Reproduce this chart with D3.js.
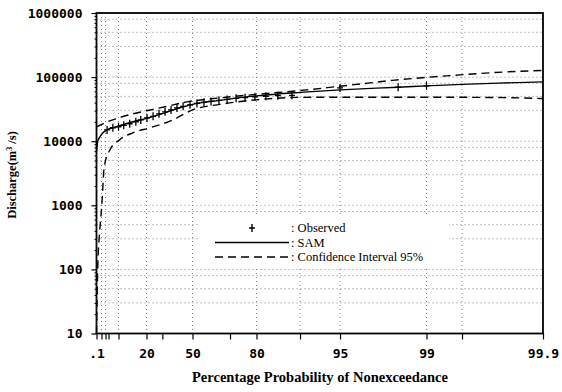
<!DOCTYPE html>
<html>
<head>
<meta charset="utf-8">
<script src="https://cdn.jsdelivr.net/npm/d3@7"></script>
<style>
  body { margin: 0; background: #fff; }
  svg { display: block; }
</style>
</head>
<body>
<div id="chart"></div>
<script>
// observed floods: probability of nonexceedance (%) and discharge (m3/s)
const obsP = [3.3, 6.9, 10, 11.6, 13.6, 15.8, 17.7, 20.3, 24, 27.8, 31.8, 35.8, 39.8, 43.9, 48.4, 52.7, 56.8, 60.7, 64.8, 68.7, 72.6, 76.1, 79.5, 82.7, 85.7, 88.6, 95, 98.3, 99];
const obsQ = [15000, 16200, 16800, 17700, 18700, 20100, 21500, 23100, 24400, 26700, 28700, 30800, 33100, 35000, 36900, 38900, 40400, 41800, 43400, 44900, 46600, 47800, 49200, 50100, 51300, 51900, 67900, 69600, 73000];

// fitted SAM curve
const samP = [0.1, 0.18, 0.51, 1.3, 3.3, 6.9, 10.3, 14.7, 20, 28.5, 38.5, 50, 65.3, 80, 90, 95, 98.3, 99, 99.5, 99.76, 99.9];
const samQ = [6840, 9790, 11700, 13500, 15050, 16200, 17400, 20100, 22700, 26200, 31400, 37600, 43400, 51000, 57800, 63200, 69600, 73000, 77000, 80600, 84200];

// 95% confidence interval, upper and lower
const upP = [0.1, 1.85, 8.4, 14.7, 20, 33.1, 46.5, 65.3, 80, 91.1, 94.7, 97, 98.1, 99, 99.48, 99.73, 99.9];
const upQ = [16800, 19400, 22300, 26700, 29800, 35000, 41100, 47400, 53800, 63200, 71100, 80400, 88900, 98900, 108200, 117500, 127200];
const loP = [0.1, 0.135, 0.21, 0.4, 0.71, 1.04, 1.25, 1.4, 1.85, 5.6, 10.3, 14.7, 22.1, 37.1, 50, 65.3, 80, 90, 96.5, 99, 99.76, 99.9];
const loQ = [10, 34, 128, 324, 597, 951, 1750, 2790, 4610, 7350, 10500, 13500, 16200, 21500, 30800, 37600, 44200, 48300, 48600, 48600, 47950, 46250];

// axis ticks
const xTickP = [0.1, 1, 2, 5, 10, 20, 30, 50, 70, 80, 90, 95, 99, 99.5, 99.9];
const xLabelP = [0.1, 20, 50, 80, 95, 99, 99.9];
const xGridP = [1, 2, 10, 20, 50, 80, 90, 95, 99, 99.5];
const yTicks = [10, 100, 1000, 10000, 100000, 1000000];
const yGridMult = [1, 3, 5, 8];

const W = 562, H = 392;
const margin = { top: 13, right: 19, bottom: 58.5, left: 96.5 };
const width = W - margin.left - margin.right;
const height = H - margin.top - margin.bottom;

// probability paper rulings (fraction of plot width), gumbel variate in between
const paperP = [0.1, 1, 2, 5, 10, 20, 50, 80, 90, 95, 99, 99.5, 99.9];
const paperFrac = [0, 0.0112, 0.0202, 0.0269, 0.0493, 0.112, 0.215, 0.3583, 0.4558, 0.5454, 0.7391, 0.8186, 1];
const gum = p => -Math.log(-Math.log(p / 100));

const xs = d3.scaleLinear()
  .domain(paperP.map(gum))
  .range(paperFrac.map(f => f * width));
const xp = p => xs(gum(p));

const y = d3.scaleLog()
  .domain([10, 1000000])
  .range([height, 0]);

const svg = d3.select('#chart')
  .append('svg')
  .attr('width', W)
  .attr('height', H)
  .style('background', '#fff');

const g = svg.append('g')
  .attr('transform', `translate(${margin.left}, ${margin.top})`);

// grid
const gridY = [];
yTicks.slice(0, -1).forEach(d => yGridMult.forEach(m => { if (d * m > 10) gridY.push(d * m); }));

g.append('g')
  .selectAll('line')
  .data(gridY)
  .enter()
  .append('line')
  .attr('x1', 0)
  .attr('x2', width)
  .attr('y1', d => y(d))
  .attr('y2', d => y(d))
  .attr('stroke', '#666')
  .attr('stroke-width', 0.8)
  .attr('stroke-dasharray', '1,3');

g.append('g')
  .selectAll('line')
  .data(xGridP)
  .enter()
  .append('line')
  .attr('x1', d => xp(d))
  .attr('x2', d => xp(d))
  .attr('y1', 0)
  .attr('y2', height)
  .attr('stroke', '#666')
  .attr('stroke-width', 0.8)
  .attr('stroke-dasharray', '1,3');

// legend box hides the grid underneath
svg.append('rect')
  .attr('x', 200)
  .attr('y', 215)
  .attr('width', 249)
  .attr('height', 53)
  .attr('fill', '#fff');

// curves
const line = d3.line()
  .x(d => xp(d[0]))
  .y(d => y(d[1]))
  .curve(d3.curveMonotoneX);

g.append('path')
  .datum(upP.map((p, i) => [p, upQ[i]]))
  .attr('d', line)
  .attr('fill', 'none')
  .attr('stroke', '#000')
  .attr('stroke-width', 1.4)
  .attr('stroke-dasharray', '8,5');

g.append('path')
  .datum(loP.map((p, i) => [p, loQ[i]]))
  .attr('d', line)
  .attr('fill', 'none')
  .attr('stroke', '#000')
  .attr('stroke-width', 1.4)
  .attr('stroke-dasharray', '8,5');

g.append('path')
  .datum(samP.map((p, i) => [p, samQ[i]]))
  .attr('d', line)
  .attr('fill', 'none')
  .attr('stroke', '#000')
  .attr('stroke-width', 1.4);

// observed points as plus marks
const plus = 'M-3,0H3M0,-4V4';
g.append('g')
  .selectAll('path')
  .data(obsP.map((p, i) => [p, obsQ[i]]))
  .enter()
  .append('path')
  .attr('transform', d => `translate(${xp(d[0])}, ${y(d[1])})`)
  .attr('d', plus)
  .attr('stroke', '#000')
  .attr('stroke-width', 1.3);

// axes
const tickFont = g => g.selectAll('text')
  .style('font-family', '"DejaVu Sans Mono", monospace')
  .style('font-weight', 'bold')
  .style('font-size', '13px')
  .attr('fill', '#000');

g.append('g')
  .attr('transform', `translate(0, ${height})`)
  .call(d3.axisBottom(xs)
    .tickValues(xTickP.map(gum))
    .tickSize(6)
    .tickPadding(9)
    .tickFormat((d, i) => {
      const p = xTickP[i];
      if (!xLabelP.includes(p)) return '';
      return p < 1 ? String(p).replace(/^0/, '') : String(p);
    }))
  .call(a => a.select('.domain').remove())
  .call(a => a.selectAll('line').attr('stroke-width', 1.2))
  .call(tickFont);

const minorY = [];
yTicks.slice(0, -1).forEach(d => d3.range(2, 10).forEach(m => minorY.push(d * m)));

g.append('g')
  .call(d3.axisLeft(y).tickValues(minorY).tickSize(2).tickFormat(''))
  .call(a => a.select('.domain').remove());

g.append('g')
  .call(d3.axisLeft(y)
    .tickValues(yTicks)
    .tickSize(5)
    .tickPadding(9)
    .tickFormat(d3.format('d')))
  .call(a => a.select('.domain').remove())
  .call(a => a.selectAll('line').attr('stroke-width', 1.2))
  .call(tickFont);

// frame
g.append('rect')
  .attr('x', 0)
  .attr('y', 0)
  .attr('width', width)
  .attr('height', height)
  .attr('fill', 'none')
  .attr('stroke', '#000')
  .attr('stroke-width', 1.8);

// axis titles
svg.append('text')
  .attr('x', 320)
  .attr('y', 382)
  .attr('text-anchor', 'middle')
  .style('font-family', '"Liberation Serif", "Times New Roman", serif')
  .style('font-weight', 'bold')
  .style('font-size', '14.5px')
  .text('Percentage Probability of Nonexceedance');

const yt = svg.append('text')
  .attr('transform', 'translate(16, 175) rotate(-90)')
  .attr('text-anchor', 'middle')
  .style('font-family', '"Liberation Serif", "Times New Roman", serif')
  .style('font-weight', 'bold')
  .style('font-size', '12.5px');
yt.append('tspan').text('Discharge(m');
yt.append('tspan').attr('dy', -4).style('font-size', '8px').text('3');
yt.append('tspan').attr('dy', 4).text(' /s)');

// legend
const legendItems = ['Observed', 'SAM', 'Confidence Interval 95%'];
const legend = svg.append('g')
  .attr('transform', 'translate(215, 228)');

legend.append('path')
  .attr('transform', 'translate(37, 0)')
  .attr('d', plus)
  .attr('stroke', '#000')
  .attr('stroke-width', 1.4);

legend.append('line')
  .attr('x1', 0).attr('x2', 74)
  .attr('y1', 14.5).attr('y2', 14.5)
  .attr('stroke', '#000')
  .attr('stroke-width', 1.4);

legend.append('line')
  .attr('x1', 0).attr('x2', 74)
  .attr('y1', 29).attr('y2', 29)
  .attr('stroke', '#000')
  .attr('stroke-width', 1.4)
  .attr('stroke-dasharray', '8,5');

legend.selectAll('text.lab')
  .data(legendItems)
  .enter()
  .append('text')
  .attr('class', 'lab')
  .attr('x', 76)
  .attr('y', (d, i) => i * 14.5 + 4)
  .style('font-family', '"Liberation Serif", "Times New Roman", serif')
  .style('font-size', '12.5px')
  .text(d => ': ' + d);
</script>
</body>
</html>
